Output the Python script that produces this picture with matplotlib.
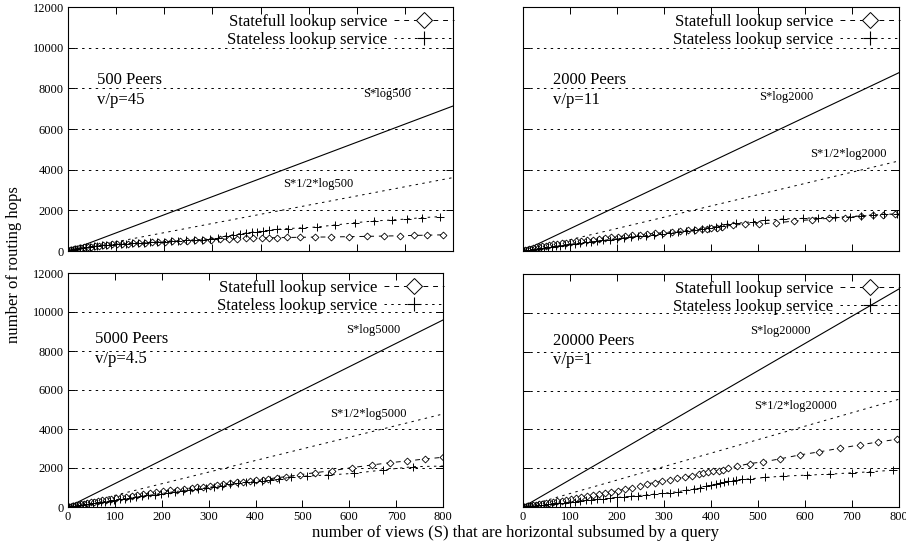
import matplotlib
matplotlib.use("Agg")
import matplotlib.pyplot as plt
from matplotlib.lines import Line2D

plt.rcParams['font.family'] = ['Liberation Serif', 'DejaVu Serif']

# ---- data ----
panel_titles = ["500 Peers", "2000 Peers", "5000 Peers", "20000 Peers"]
panel_ratios = ["v/p=45", "v/p=11", "v/p=4.5", "v/p=1"]
full_labels = ["S*log500", "S*log2000", "S*log5000", "S*log20000"]
half_labels = ["S*1/2*log500", "S*1/2*log2000", "S*1/2*log5000", "S*1/2*log20000"]

ref_x = [0, 800]
full_end = [7130, 8770, 9590, 11230]
half_end = [3610, 4430, 4770, 5550]

# 500 peers
sf500_x = [1, 4, 8, 12, 17, 22, 28, 34, 41, 48, 56, 64, 73, 82, 92, 102, 113, 124, 136, 148,
           161, 174, 188, 202, 217, 232, 248, 264, 281, 298, 316, 334, 352, 370, 385, 403, 418,
           434, 456, 482, 514, 546, 583, 621, 656, 689, 718, 746, 779]
sf500_y = [5, 25, 50, 75, 100, 125, 150, 175, 200, 220, 245, 265, 285, 305, 320, 335, 350, 365,
           380, 395, 410, 425, 445, 465, 480, 495, 510, 530, 545, 560, 575, 590, 605, 620, 630,
           640, 650, 655, 665, 675, 685, 690, 705, 720, 735, 750, 765, 780, 795]
sl500_x = [2, 6, 10, 14, 19, 25, 31, 38, 45, 53, 61, 70, 79, 89, 99, 110, 121, 133, 145, 158,
           171, 185, 199, 214, 229, 245, 261, 278, 295, 312, 328, 343, 357, 370, 382, 393, 405,
           418, 434, 458, 486, 517, 555, 597, 635, 673, 704, 735, 773]
sl500_y = [10, 35, 60, 85, 110, 135, 160, 185, 210, 235, 255, 275, 295, 315, 335, 350, 365, 380,
           395, 410, 425, 445, 465, 480, 500, 520, 540, 565, 600, 660, 740, 800, 850, 890, 925,
           950, 985, 1025, 1066, 1105, 1140, 1180, 1279, 1394, 1476, 1525, 1574, 1640, 1690]

# 2000 peers
sf2000_x = [1, 4, 8, 12, 17, 22, 28, 34, 41, 48, 56, 64, 73, 82, 92, 102, 113, 124, 136, 148,
            161, 174, 188, 202, 217, 232, 248, 264, 281, 298, 316, 334, 352, 366, 380, 391, 401,
            412, 423, 447, 472, 503, 538, 577, 614, 650, 685, 719, 744, 767, 791]
sf2000_y = [5, 30, 60, 90, 120, 150, 175, 200, 230, 260, 290, 320, 350, 380, 410, 440, 470, 500,
            530, 560, 600, 630, 670, 705, 735, 770, 800, 830, 870, 900, 940, 975, 1010, 1040,
            1070, 1095, 1115, 1148, 1190, 1279, 1312, 1344, 1377, 1476, 1541, 1607, 1640, 1722,
            1754, 1771, 1820]
sl2000_x = [2, 6, 10, 14, 19, 25, 31, 38, 45, 53, 61, 70, 79, 89, 99, 110, 121, 133, 145, 158,
            171, 185, 199, 214, 229, 245, 261, 278, 295, 312, 329, 346, 363, 380, 396, 410, 422,
            433, 454, 490, 515, 554, 595, 628, 664, 696, 720, 745, 768, 795]
sl2000_y = [5, 20, 35, 50, 70, 90, 110, 135, 160, 185, 210, 240, 265, 295, 325, 355, 385, 420,
            455, 490, 525, 560, 600, 640, 680, 720, 760, 800, 850, 900, 950, 1000, 1050, 1100,
            1150, 1200, 1250, 1312, 1361, 1443, 1508, 1574, 1607, 1640, 1656, 1689, 1738, 1771,
            1804, 1820]

# 5000 peers
sf5000_x = [1, 4, 8, 12, 17, 22, 28, 34, 41, 48, 56, 64, 73, 82, 92, 102, 113, 124, 136, 148,
            161, 174, 188, 202, 217, 232, 248, 264, 276, 289, 303, 317, 331, 345, 360, 374, 388,
            402, 416, 427, 445, 466, 495, 527, 564, 605, 648, 687, 723, 761, 799]
sf5000_y = [5, 20, 40, 60, 85, 110, 140, 170, 200, 240, 280, 310, 345, 380, 420, 450, 490, 525,
            570, 610, 660, 700, 750, 800, 850, 890, 940, 980, 1010, 1043, 1090, 1140, 1190, 1230,
            1270, 1299, 1333, 1370, 1410, 1436, 1504, 1556, 1658, 1761, 1863, 2017, 2154, 2274,
            2359, 2462, 2547]
sl5000_x = [2, 6, 10, 14, 19, 25, 31, 38, 45, 53, 61, 70, 79, 89, 99, 110, 121, 133, 145, 158,
            171, 185, 199, 214, 229, 245, 261, 278, 295, 312, 329, 346, 363, 380, 397, 414, 430,
            450, 475, 510, 555, 610, 671, 736, 800]
sl5000_y = [5, 20, 35, 50, 70, 90, 110, 135, 160, 190, 220, 250, 280, 315, 350, 385, 420, 460,
            500, 545, 590, 640, 690, 740, 790, 840, 890, 940, 990, 1050, 1100, 1160, 1210, 1260,
            1300, 1350, 1390, 1440, 1521, 1590, 1641, 1726, 1897, 2068, 2100]

# 20000 peers
sf20000_x = [1, 4, 8, 12, 17, 22, 28, 34, 41, 48, 56, 64, 73, 82, 92, 102, 113, 124, 136, 148,
             161, 174, 188, 202, 217, 232, 248, 264, 280, 296, 312, 328, 344, 360, 374, 384, 394,
             405, 416, 426, 437, 456, 483, 511, 547, 589, 630, 674, 716, 756, 796]
sf20000_y = [5, 20, 35, 50, 70, 90, 115, 135, 165, 190, 225, 255, 290, 325, 365, 405, 450, 495,
             550, 600, 660, 715, 780, 845, 920, 1000, 1090, 1190, 1260, 1330, 1400, 1470, 1540,
             1610, 1690, 1761, 1795, 1829, 1863, 1897, 1983, 2103, 2239, 2325, 2479, 2684, 2838,
             3026, 3197, 3350, 3487]
sl20000_x = [2, 6, 10, 14, 19, 25, 31, 38, 45, 53, 61, 70, 79, 89, 99, 110, 121, 133, 145, 158,
             171, 185, 199, 214, 229, 245, 261, 278, 295, 312, 329, 346, 363, 377, 390, 400, 410,
             419, 428, 437, 446, 454, 465, 484, 515, 554, 604, 653, 699, 738, 788]
sl20000_y = [5, 15, 30, 40, 55, 70, 85, 100, 120, 140, 160, 185, 205, 230, 255, 280, 310, 340,
             365, 395, 425, 455, 490, 520, 555, 590, 625, 660, 700, 740, 790, 850, 930, 1000,
             1060, 1120, 1180, 1240, 1290, 1330, 1360, 1385, 1419, 1453, 1521, 1590, 1641, 1692,
             1761, 1812, 1897]

statefull = [(sf500_x, sf500_y), (sf2000_x, sf2000_y), (sf5000_x, sf5000_y), (sf20000_x, sf20000_y)]
stateless = [(sl500_x, sl500_y), (sl2000_x, sl2000_y), (sl5000_x, sl5000_y), (sl20000_x, sl20000_y)]

# label positions (data coords) for the annotations
title_pos = [(61, 8410, 7430), (64, 8410, 7430), (57, 8620, 7600), (64, 8560, 7560)]
full_pos = [(663, 7720), (561, 7590), (651, 9080), (547, 9080)]
half_pos = [(520, 3290), (692, 4750), (640, 4770), (579, 5200)]

# axes rectangles in pixels (left, top, right, bottom) on a 906x548 canvas
W, H = 906, 548
boxes = [(68, 7, 453, 251), (523, 7, 899, 251), (68, 273, 443, 507), (523, 274, 899, 507)]

fig = plt.figure(figsize=(9.06, 5.48), dpi=100)

DASH = (0, (5, 5))
DOT = (0, (2.5, 4.5))

for i, (l, t, r, b) in enumerate(boxes):
    ax = fig.add_axes([l / W, 1 - b / H, (r - l) / W, (b - t) / H])
    ax.set_xlim(0, 800)
    ax.set_ylim(0, 12000)
    ax.set_xticks(range(0, 801, 100))
    ax.set_yticks(range(0, 12001, 2000))
    for gy in range(2000, 12000, 2000):
        ax.axhline(gy, color='k', lw=0.7, ls=DOT, zorder=0)

    ax.plot(ref_x, [0, full_end[i]], color='k', lw=0.8)
    ax.plot(ref_x, [0, half_end[i]], color='k', lw=0.7, ls=DOT)

    sx, sy = statefull[i]
    ax.plot(sx, sy, color='k', lw=0.7, ls=DASH, marker='D', ms=3.5,
            mfc='white', mec='k', mew=0.6)
    lx, ly = stateless[i]
    ax.plot(lx, ly, color='k', lw=0.7, ls=DOT, marker='+', ms=5.5, mew=0.7)

    tx, ty1, ty2 = title_pos[i]
    ax.text(tx, ty1, panel_titles[i], fontsize=12, va='center')
    ax.text(tx, ty2, panel_ratios[i], fontsize=12, va='center')
    ax.text(full_pos[i][0], full_pos[i][1], full_labels[i], fontsize=9, ha='center', va='center')
    ax.text(half_pos[i][0], half_pos[i][1], half_labels[i], fontsize=9, ha='center', va='center')

    handles = [
        Line2D([], [], color='k', lw=0.7, ls=DASH, marker='D', ms=8, mfc='white', mew=0.7),
        Line2D([], [], color='k', lw=0.7, ls=DOT, marker='+', ms=10, mew=0.8),
    ]
    ax.legend(handles, ["Statefull lookup service", "Stateless lookup service"],
              loc='upper right', bbox_to_anchor=(1.02, 1.0), frameon=False,
              markerfirst=False, numpoints=1, fontsize=12, handlelength=3.6,
              handletextpad=0.4, labelspacing=0.12, borderaxespad=0.0, borderpad=0.4)

    ax.tick_params(direction='in', top=True, right=True, length=5, width=0.7,
                   labelsize=9, pad=3,
                   labelleft=(i % 2 == 0), labelbottom=(i >= 2))
    for s in ax.spines.values():
        s.set_linewidth(0.8)

fig.text(14 / W, 1 - 265 / H, "number of routing hops", rotation=90,
         fontsize=12, ha='center', va='center')
fig.text(515 / W, 1 - 533 / H, "number of views (S) that are horizontal subsumed by a query",
         fontsize=12, ha='center', va='center')

fig.savefig("out.png", dpi=100)
